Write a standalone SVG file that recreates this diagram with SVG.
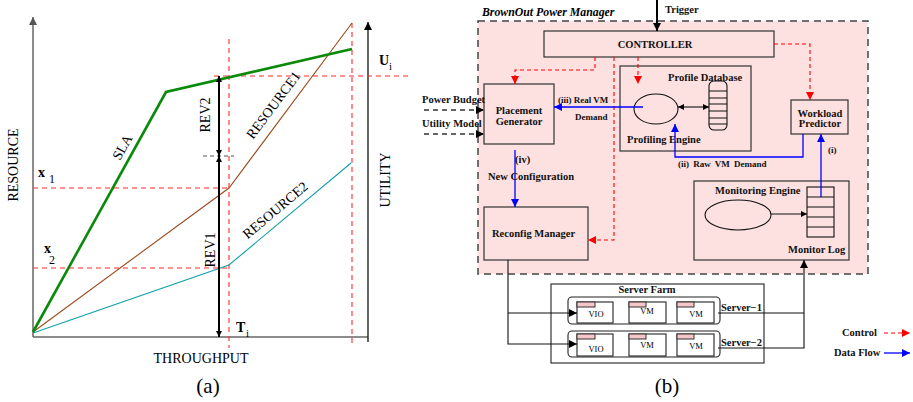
<svg xmlns="http://www.w3.org/2000/svg" width="913" height="402" viewBox="0 0 913 402">
<style>
.ser{font-family:"Liberation Serif","Times New Roman",serif;fill:#000}
.t14{font-size:14px}
.b{font-weight:bold}
.lbl{font-family:"Liberation Serif","Times New Roman",serif;font-weight:bold;font-size:10.5px;fill:#111}
.sm{font-size:9px}
.rd{stroke:#ff2a2a;stroke-width:1.1;stroke-dasharray:5,4;fill:none}
.rdb{stroke:#ff0000;stroke-width:1.1;stroke-dasharray:4,3;fill:none}
.bl{stroke:#0000ff;stroke-width:1.3;fill:none}
.box{fill:none;stroke:#333;stroke-width:1.2}
.wbox{fill:#fff;stroke:#222;stroke-width:1.1}
.tab{fill:#f6c6c8;stroke:#333;stroke-width:1}
.k{stroke:#111;stroke-width:1.1;fill:none}
</style>
<defs>
<marker id="aK" viewBox="0 0 10 10" refX="10" refY="5" markerWidth="8" markerHeight="8" markerUnits="userSpaceOnUse" orient="auto-start-reverse"><path d="M0,0 L10,5 L0,10 z" fill="#000"/></marker>
<marker id="aKs" viewBox="0 0 10 10" refX="10" refY="5" markerWidth="6" markerHeight="6" markerUnits="userSpaceOnUse" orient="auto-start-reverse"><path d="M0,0 L10,5 L0,10 z" fill="#000"/></marker>
<marker id="aR" viewBox="0 0 10 10" refX="10" refY="5" markerWidth="8" markerHeight="8" markerUnits="userSpaceOnUse" orient="auto"><path d="M0,0 L10,5 L0,10 z" fill="#ff0000"/></marker>
<marker id="aB" viewBox="0 0 10 10" refX="10" refY="5" markerWidth="8" markerHeight="8" markerUnits="userSpaceOnUse" orient="auto"><path d="M0,0 L10,5 L0,10 z" fill="#0000ff"/></marker>
<marker id="aG" viewBox="0 0 10 10" refX="10" refY="5" markerWidth="8" markerHeight="8" markerUnits="userSpaceOnUse" orient="auto"><path d="M0,0 L10,5 L0,10 z" fill="#555"/></marker>
</defs>
<rect width="913" height="402" fill="#fff"/>

<!-- Panel (a) -->
<g id="chart-a">
  <g id="axes">
    <line x1="33" y1="337" x2="33" y2="17" stroke="#666" stroke-width="1.5" marker-end="url(#aG)"/>
    <line x1="33" y1="337" x2="368" y2="337" stroke="#666" stroke-width="1.5"/>
    <line x1="368" y1="342" x2="368" y2="22" stroke="#111" stroke-width="1.3" marker-end="url(#aK)"/>
  </g>
  <g id="guides">
    <line class="rd" x1="229" y1="39" x2="229" y2="348"/>
    <line class="rd" x1="352" y1="23" x2="352" y2="344"/>
    <line class="rd" x1="214" y1="76" x2="411" y2="76"/>
    <line class="rd" x1="33" y1="188" x2="229" y2="188"/>
    <line class="rd" x1="33" y1="268" x2="229" y2="268"/>
    <line x1="203" y1="156" x2="234" y2="156" stroke="#555" stroke-width="1" stroke-dasharray="4,3"/>
  </g>
  <g id="curves">
    <polyline points="33,332 229,188 352,23" fill="none" stroke="#9c4a1a" stroke-width="1.1"/>
    <polyline points="33,333 229,265 351,163" fill="none" stroke="#10a0a8" stroke-width="1.1"/>
    <polyline points="33,332 166,92 352,49" fill="none" stroke="#0a8a0a" stroke-width="2.6"/>
  </g>
  <g id="rev">
    <line x1="219" y1="76" x2="219" y2="156" stroke="#000" stroke-width="2" marker-start="url(#aKs)" marker-end="url(#aKs)"/>
    <line x1="219" y1="156" x2="219" y2="337" stroke="#000" stroke-width="2" marker-start="url(#aKs)" marker-end="url(#aKs)"/>
  </g>
  <g id="labels-a" class="ser t14">
    <text transform="translate(18,165) rotate(-90)" text-anchor="middle">RESOURCE</text>
    <text transform="translate(390,180) rotate(-90)" text-anchor="middle">UTILITY</text>
    <text transform="translate(210,115) rotate(-90)" text-anchor="middle">REV2</text>
    <text transform="translate(215,250) rotate(-90)" text-anchor="middle">REV1</text>
    <text transform="translate(122,147) rotate(-61)" text-anchor="middle" y="5">SLA</text>
    <text transform="translate(273,105) rotate(-53)" text-anchor="middle" y="5">RESOURCE1</text>
    <text transform="translate(275,210) rotate(-40)" text-anchor="middle" y="5">RESOURCE2</text>
    <text x="38" y="177" class="b">x</text><text x="49" y="183" font-size="12">1</text>
    <text x="44" y="253" class="b">x</text><text x="49" y="264" font-size="12">2</text>
    <text x="379" y="65" class="b">U</text><text x="389" y="70" font-size="11">i</text>
    <text x="236" y="332" class="b">T</text><text x="246" y="337" font-size="11">i</text>
    <text x="201" y="363" text-anchor="middle">THROUGHPUT</text>
    <text x="208" y="393" text-anchor="middle" font-size="21">(a)</text>
  </g>
</g>

<!-- Panel (b) -->
<g id="brownout">
  <rect x="478" y="21" width="390" height="253" fill="#fde0e0" stroke="#444" stroke-width="1.5" stroke-dasharray="7,5"/>
  <text x="482" y="16" class="ser b" font-size="11.8" font-style="italic">BrownOut Power Manager</text>
</g>

<g id="controller">
  <rect class="box" x="544" y="31" width="230" height="26"/>
  <text class="lbl" x="655" y="48" text-anchor="middle">CONTROLLER</text>
</g>
<g id="placement-generator">
  <rect class="box" x="484" y="84" width="70" height="60"/>
  <text class="lbl" x="519" y="114" text-anchor="middle">Placement</text>
  <text class="lbl" x="519" y="125" text-anchor="middle">Generator</text>
</g>
<g id="reconfig-manager">
  <rect class="box" x="484" y="207" width="104" height="53"/>
  <text class="lbl" x="492" y="237">Reconfig Manager</text>
</g>
<g id="profile-database">
  <rect class="box" x="620" y="66" width="131" height="85"/>
  <text class="lbl" x="668" y="81">Profile Database</text>
  <ellipse cx="656" cy="109" rx="22" ry="15" fill="none" stroke="#111" stroke-width="1.1"/>
  <rect x="709" y="81" width="18" height="49" rx="5" fill="none" stroke="#111" stroke-width="1.1"/>
  <path d="M709,91H727M709,98H727M709,104H727M709,111H727M709,118H727M709,124H727" stroke="#111" stroke-width="1"/>
  <line class="k" x1="678" y1="107" x2="709" y2="107" stroke-width="0.9" marker-start="url(#aKs)" marker-end="url(#aKs)"/>
  <text class="lbl" x="627" y="143">Profiling Engine</text>
</g>
<g id="workload-predictor">
  <rect class="box" x="791" y="100" width="57" height="34"/>
  <text class="lbl" x="820" y="117" text-anchor="middle">Workload</text>
  <text class="lbl" x="820" y="127" text-anchor="middle">Predictor</text>
</g>
<g id="monitoring-engine">
  <rect class="box" x="694" y="181" width="155" height="79"/>
  <text class="lbl" x="715" y="194">Monitoring Engine</text>
  <ellipse cx="738" cy="215" rx="33" ry="15" fill="none" stroke="#111" stroke-width="1.1"/>
  <rect x="807" y="187" width="27" height="50" fill="none" stroke="#111" stroke-width="1.1"/>
  <path d="M807,197H834M807,207H834M807,217H834M807,227H834" stroke="#111" stroke-width="1"/>
  <line class="k" x1="771" y1="214" x2="807" y2="214" stroke-width="0.9" marker-end="url(#aKs)"/>
  <text class="lbl" x="788" y="253">Monitor Log</text>
</g>
<g id="server-farm">
  <rect class="wbox" x="551" y="284" width="213" height="79"/>
  <text class="lbl" x="647" y="293" text-anchor="middle" font-size="11.5">Server Farm</text>
  <rect class="wbox" x="568" y="297" width="152" height="27" rx="4"/>
  <rect class="wbox" x="568" y="331" width="152" height="26" rx="4"/>
  <g id="server1-vms">
    <rect class="wbox" x="577" y="302" width="36" height="21"/><rect class="tab" x="577" y="302" width="18" height="5"/>
    <rect class="wbox" x="629" y="302" width="37" height="21"/><rect class="tab" x="629" y="302" width="17" height="5"/>
    <rect class="wbox" x="677" y="302" width="37" height="21"/><rect class="tab" x="677" y="302" width="17" height="5"/>
  </g>
  <g id="server2-vms">
    <rect class="wbox" x="577" y="334" width="36" height="22"/><rect class="tab" x="577" y="334" width="18" height="5"/>
    <rect class="wbox" x="629" y="334" width="37" height="22"/><rect class="tab" x="629" y="334" width="17" height="5"/>
    <rect class="wbox" x="677" y="334" width="37" height="22"/><rect class="tab" x="677" y="334" width="17" height="5"/>
  </g>
  <g class="ser" font-size="8.5" text-anchor="middle">
    <text x="596" y="317">VIO</text><text x="647" y="314">VM</text><text x="696" y="317">VM</text>
    <text x="596" y="352">VIO</text><text x="647" y="348">VM</text><text x="696" y="349">VM</text>
  </g>
  <text class="lbl" x="721" y="311">Server−1</text>
  <text class="lbl" x="721" y="346">Server−2</text>
</g>

<g id="connectors">
  <!-- trigger -->
  <line x1="657" y1="0" x2="657" y2="31" stroke="#000" stroke-width="2" marker-end="url(#aK)"/>
  <text class="lbl" x="665" y="13">Trigger</text>
  <!-- inputs -->
  <line x1="424" y1="110" x2="484" y2="110" stroke="#333" stroke-width="1.5" stroke-dasharray="5,4" marker-end="url(#aK)"/>
  <line x1="424" y1="134" x2="484" y2="134" stroke="#333" stroke-width="1.5" stroke-dasharray="5,4" marker-end="url(#aK)"/>
  <text class="lbl" x="422" y="103">Power Budget</text>
  <text class="lbl" x="422" y="127">Utility Model</text>
  <!-- control -->
  <polyline class="rdb" points="595,57 595,70 515,70 515,84" marker-end="url(#aR)"/>
  <polyline class="rdb" points="614,57 614,240 588,240" marker-end="url(#aR)"/>
  <line class="rdb" x1="638" y1="57" x2="638" y2="84" marker-end="url(#aR)"/>
  <polyline class="rdb" points="774,44 810,44 810,100" marker-end="url(#aR)"/>
  <!-- data flow -->
  <line class="bl" x1="643" y1="107" x2="554" y2="107" marker-end="url(#aB)"/>
  <text class="lbl sm" x="558" y="103">(iii) Real VM</text>
  <text class="lbl sm" x="575" y="120">Demand</text>
  <line class="bl" x1="515" y1="150" x2="515" y2="207" marker-end="url(#aB)"/>
  <text class="lbl" x="515" y="163" font-size="10">(iv)</text>
  <text class="lbl" x="488" y="180" font-size="10">New Configuration</text>
  <line class="bl" x1="821" y1="197" x2="821" y2="134" marker-end="url(#aB)"/>
  <text class="lbl sm" x="828" y="153">(i)</text>
  <polyline class="bl" points="803,134 803,157 675,157 675,124" marker-end="url(#aB)"/>
  <text class="lbl sm" x="678" y="167" word-spacing="2">(ii) Raw VM Demand</text>
  <!-- server farm links -->
  <polyline class="k" points="508,260 508,344 577,344" marker-end="url(#aK)"/>
  <line class="k" x1="508" y1="313" x2="577" y2="313" marker-end="url(#aK)"/>
  <polyline class="k" points="718,313 804,313"/>
  <polyline class="k" points="718,348 804,348 804,260" marker-end="url(#aK)"/>
</g>

<g id="legend">
  <text class="lbl" x="842" y="336">Control</text>
  <line class="rdb" x1="884" y1="333" x2="910" y2="333" marker-end="url(#aR)"/>
  <text class="lbl" x="834" y="356">Data Flow</text>
  <line class="bl" x1="884" y1="353" x2="910" y2="353" marker-end="url(#aB)"/>
</g>
<text class="ser" x="667" y="393" text-anchor="middle" font-size="21">(b)</text>
</svg>
